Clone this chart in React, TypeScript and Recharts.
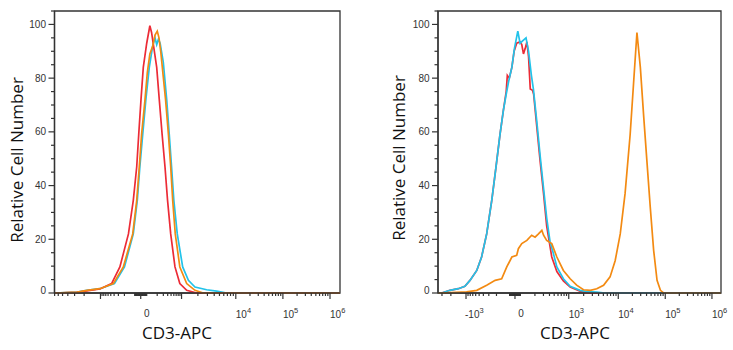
import React from "react";
import { LineChart, Line, XAxis, YAxis, ReferenceArea } from "recharts";

// x values are display channels (0-1000) on the biexponential CD3-APC axis

// ---- left histogram ----
const leftRedX = [0, 78, 113, 159, 200, 229, 259, 276, 288, 295, 303, 311, 323, 334, 340, 358, 367, 377, 387, 396, 407, 422, 439, 463, 498, 1000];
const leftRedY = [0, 0.2, 0.8, 1.5, 3.5, 9.7, 22, 34.5, 47, 59, 72, 84, 93, 99.5, 97, 84, 72, 59, 47, 34.5, 22, 9.7, 3.5, 1, 0, 0];

const leftOrangeX = [0, 80, 113, 159, 206, 241, 274, 288, 297, 305, 317, 325, 334, 344, 352, 360, 366, 372, 381, 389, 399, 407, 414, 423, 439, 463, 492, 521, 1000];
const leftOrangeY = [0, 0.3, 1.0, 1.6, 3.5, 9.7, 22, 34.5, 47, 59, 72, 82, 89, 92, 96, 97.5, 95, 90, 80.5, 72, 59, 47, 34.5, 22, 9.7, 3.5, 1, 0, 0];

const leftCyanX = [0, 80, 113, 159, 210, 245, 276, 290, 299, 309, 320, 332, 344, 352, 358, 364, 370, 381, 393, 402, 410, 418, 430, 449, 469, 492, 533, 568, 603, 1000];
const leftCyanY = [0, 0.3, 1.0, 1.6, 3.5, 9.7, 22, 34.5, 47, 59, 72, 84, 92, 95, 92.5, 94.5, 93, 86, 72, 59, 47, 34.5, 22, 9.7, 4.7, 2.2, 1.2, 0.7, 0, 0];

// ---- right histogram ----
const rightRedX = [0, 13, 42, 72, 95, 113, 137, 154, 172, 190, 205, 219, 231, 241, 245, 252, 261, 269, 278, 290, 296, 302, 308, 314, 320, 326, 334, 338, 349, 361, 373, 384, 402, 420, 443, 467, 502, 526, 1000];
const rightRedY = [0, 0, 1, 1.6, 2.5, 4.7, 8.4, 13.4, 22, 34.5, 47, 59, 68, 75, 81, 80, 84, 90, 93, 93.5, 92.5, 89, 91, 93.5, 88, 76, 75.5, 74, 62, 49, 37, 25, 13.4, 8, 4.5, 2.2, 0.7, 0, 0];

const rightCyanX = [0, 13, 42, 72, 95, 113, 137, 154, 172, 190, 205, 219, 231, 241, 250, 261, 270, 282, 290, 300, 311, 320, 330, 337, 349, 361, 373, 384, 396, 408, 420, 443, 467, 502, 526, 560, 590, 1000];
const rightCyanY = [0, 0, 1, 1.6, 2.5, 4.7, 8.4, 13.4, 22, 34.5, 47, 59, 68, 74, 79, 84, 91, 97.5, 93, 94, 95, 90, 81, 76, 64, 51, 39, 28, 19, 14.6, 9.7, 5.3, 2.5, 1, 0.5, 0.3, 0, 0];

const rightOrangeX = [0, 7, 101, 137, 172, 202, 225, 243, 261, 278, 284, 296, 314, 331, 343, 355, 367, 373, 384, 402, 420, 443, 467, 490, 514, 538, 561, 585, 608, 626, 644, 661, 679, 691, 703, 715, 727, 738, 750, 762, 774, 786, 797, 1000];
const rightOrangeY = [0, 0, 0.4, 1, 2.9, 4.7, 5.3, 9.7, 13.4, 14, 16.5, 18.4, 19.6, 21.5, 20.8, 22, 23.3, 21.5, 19.6, 18.4, 13.4, 8.4, 5.3, 2.9, 1.2, 1, 1.6, 2.9, 6, 12, 22, 37, 59, 78, 97, 84, 65.5, 49.4, 32, 15.9, 4.7, 1, 0, 0];

// decade marks of the axis and where they sit in display channels
const decadeValues = [-1e4, -1e3, 0, 1e3, 1e4, 1e5, 1e6];
const leftDecadePos = [-29, 161, 302, 445, 635, 800, 965];
const rightDecadePos = [-79, 99, 272, 462, 637, 803, 968];
const leftTickLabels = ["", "", "0", "", "10^4", "10^5", "10^6"];
const rightTickLabels = ["", "-10^3", "0", "10^3", "10^4", "10^5", "10^6"];

const yTicks = [0, 5, 10, 15, 20, 25, 30, 35, 40, 45, 50, 55, 60, 65, 70, 75, 80, 85, 90, 95, 100, 105];

const RED = "#ec2b36";
const ORANGE = "#f38a12";
const CYAN = "#22c3ea";
const AXIS = "#333";

type Tick = { pos: number; major: boolean; label: string };

const zip = (xs: number[], ys: number[]) => xs.map((x, i) => ({ x, y: ys[i] }));

function buildXTicks(pos: number[], labels: string[], spread: number): Tick[] {
  const out: Tick[] = [];
  const z = decadeValues.indexOf(0);
  pos.forEach((p, i) => out.push({ pos: p, major: true, label: labels[i] }));
  for (const dir of [-1, 1]) {
    const p0 = pos[z];
    const p100 = p0 + dir * spread;
    for (let k = 1; k <= 10; k++) out.push({ pos: p0 + (dir * spread * k) / 10, major: false, label: "" });
    const p1k = pos[z + dir];
    for (let m = 2; m <= 9; m++) out.push({ pos: p100 + Math.log10(m) * (p1k - p100), major: false, label: "" });
    // full decades further out
    for (let i = z + dir; i + dir >= 0 && i + dir < pos.length; i += dir) {
      const a = pos[i];
      const b = pos[i + dir];
      for (let m = 2; m <= 9; m++) out.push({ pos: a + Math.log10(m) * (b - a), major: false, label: "" });
    }
  }
  return out.filter((t) => t.pos >= 0 && t.pos <= 1000).sort((a, b) => a.pos - b.pos);
}

const leftTicks = buildXTicks(leftDecadePos, leftTickLabels, 21);
const rightTicks = buildXTicks(rightDecadePos, rightTickLabels, 19);

function TickLabel({ x, y, label }: { x: number; y: number; label: string }) {
  const style = { fontFamily: "Liberation Sans, Arial, sans-serif", fill: AXIS };
  if (!label.includes("^")) {
    return (
      <text x={x + 6} y={y + 24} textAnchor="middle" fontSize={10} style={style}>
        {label}
      </text>
    );
  }
  const [base, exp] = label.split("^");
  return (
    <text x={base.startsWith("-") ? x - 1 : x} y={y + 25} textAnchor="start" fontSize={10} style={style}>
      {base}
      <tspan dy={-5} fontSize={7.5}>
        {exp}
      </tspan>
    </text>
  );
}

function makeXTick(ticks: Tick[]) {
  return (props: any) => {
    const { x, y, payload } = props;
    const t = ticks.find((k) => Math.abs(k.pos - payload.value) < 1e-6);
    const major = t ? t.major : false;
    return (
      <g>
        <line x1={x} x2={x} y1={y} y2={y + (major ? 6 : 3)} stroke={AXIS} strokeWidth={1.2} />
        {t && t.label ? <TickLabel x={x} y={y} label={t.label} /> : null}
      </g>
    );
  };
}

function YTick(props: any) {
  const { x, y, payload } = props;
  const v = payload.value as number;
  const major = v % 20 === 0;
  return (
    <g>
      <line x1={x - (major ? 6 : 3.5)} x2={x} y1={y} y2={y} stroke={AXIS} strokeWidth={1.2} />
      {major ? (
        <text
          x={x - 8.5}
          y={v === 0 ? y - 3 : y}
          dy={3.5}
          textAnchor="end"
          fontSize={10}
          style={{ fontFamily: "Liberation Sans, Arial, sans-serif", fill: AXIS }}
        >
          {v}
        </text>
      ) : null}
    </g>
  );
}

type Series = { color: string; xs: number[]; ys: number[] };

function Histogram({
  left,
  width,
  marginRight,
  yAxisWidth,
  ticks,
  series,
}: {
  left: number;
  width: number;
  marginRight: number;
  yAxisWidth: number;
  ticks: Tick[];
  series: Series[];
}) {
  return (
    <div style={{ position: "absolute", left, top: 0 }}>
      <LineChart width={width} height={350} margin={{ top: 11, right: marginRight, bottom: 0, left: 0 }}>
        <XAxis
          dataKey="x"
          type="number"
          domain={[0, 1000]}
          allowDataOverflow
          ticks={ticks.map((t) => t.pos)}
          interval={0}
          tickSize={0}
          tickMargin={0}
          tickLine={false}
          tick={makeXTick(ticks)}
          axisLine={{ stroke: AXIS, strokeWidth: 1.3 }}
          height={57}
        />
        <YAxis
          type="number"
          domain={[0, 105]}
          ticks={yTicks}
          interval={0}
          tickSize={0}
          tickMargin={0}
          tickLine={false}
          tick={<YTick />}
          axisLine={{ stroke: AXIS, strokeWidth: 1.3 }}
          width={yAxisWidth}
        />
        <ReferenceArea x1={0} x2={1000} y1={0} y2={105} fill="none" stroke={AXIS} strokeWidth={1.3} />
        {series.map((s, i) => (
          <Line
            key={i}
            data={zip(s.xs, s.ys)}
            dataKey="y"
            type="linear"
            stroke={s.color}
            strokeWidth={1.7}
            dot={false}
            isAnimationActive={false}
          />
        ))}
      </LineChart>
    </div>
  );
}

const titleStyle = { fontFamily: "Open Sans, sans-serif", fontSize: 17, fill: "#111" };

export default function App() {
  return (
    <div style={{ position: "absolute", left: 0, top: 0, width: 733, height: 350, background: "#fff" }}>
      <Histogram
        left={0}
        width={360}
        marginRight={20}
        yAxisWidth={54.5}
        ticks={leftTicks}
        series={[
          { color: CYAN, xs: leftCyanX, ys: leftCyanY },
          { color: RED, xs: leftRedX, ys: leftRedY },
          { color: ORANGE, xs: leftOrangeX, ys: leftOrangeY },
        ]}
      />
      <Histogram
        left={383}
        width={350}
        marginRight={12}
        yAxisWidth={55}
        ticks={rightTicks}
        series={[
          { color: RED, xs: rightRedX, ys: rightRedY },
          { color: CYAN, xs: rightCyanX, ys: rightCyanY },
          { color: ORANGE, xs: rightOrangeX, ys: rightOrangeY },
        ]}
      />
      <svg width={733} height={350} style={{ position: "absolute", left: 0, top: 0, pointerEvents: "none" }}>
        <text x={177} y={339} textAnchor="middle" style={titleStyle}>
          CD3-APC
        </text>
        <text x={575} y={339} textAnchor="middle" style={titleStyle}>
          CD3-APC
        </text>
        <text transform="translate(23,160) rotate(-90)" textAnchor="middle" style={titleStyle}>
          Relative Cell Number
        </text>
        <text transform="translate(405,158) rotate(-90)" textAnchor="middle" style={titleStyle}>
          Relative Cell Number
        </text>
      </svg>
    </div>
  );
}
